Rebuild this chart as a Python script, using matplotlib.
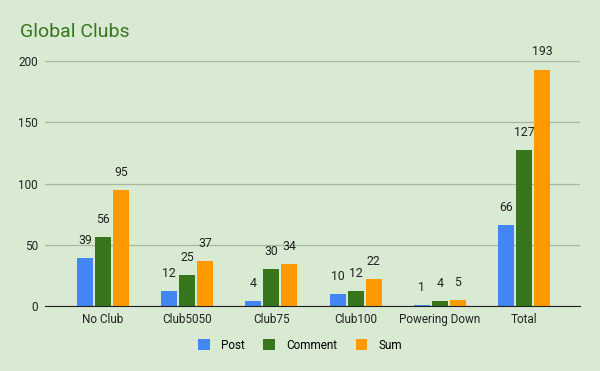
import matplotlib
matplotlib.use('Agg')
import matplotlib.pyplot as plt
import numpy as np

categories = ['No Club', 'Club5050', 'Club75', 'Club100', 'Powering Down', 'Total']
post = [39, 12, 4, 10, 1, 66]
comment = [56, 25, 30, 12, 4, 127]
total_sum = [95, 37, 34, 22, 5, 193]
yticks = [0, 50, 100, 150, 200]

plt.rcParams['font.family'] = ['Roboto', 'DejaVu Sans']

bg = '#d9ead3'
fig = plt.figure(figsize=(6, 3.71), dpi=100, facecolor=bg)
ax = fig.add_axes([0.075, 0.175, 0.892, 0.6606], facecolor=bg)

x = np.arange(len(categories))
w = 0.19
step = 0.214
series = [('Post', post, '#4285f4'), ('Comment', comment, '#38761d'), ('Sum', total_sum, '#ff9900')]
for i, (name, vals, col) in enumerate(series):
    bars = ax.bar(x + (i - 1) * step, vals, width=w, color=col, label=name, zorder=3)
    for b, v in zip(bars, vals):
        ax.annotate(str(v), (b.get_x() + b.get_width() / 2, v), xytext=(0, 8),
                    textcoords='offset points', ha='center', va='bottom',
                    fontsize=8.8, color='#222222')

ax.set_xlim(-0.69, 5.67)
ax.set_ylim(0, 200)
ax.set_yticks(yticks)
ax.set_xticks(x)
ax.set_xticklabels(categories)
ax.tick_params(axis='both', length=0, labelsize=8.5, colors='#222222')
ax.tick_params(axis='x', pad=5)
ax.tick_params(axis='y', pad=5)
ax.grid(axis='y', color='#a6b89f', linewidth=0.9, zorder=0)
for s in ['top', 'right', 'left']:
    ax.spines[s].set_visible(False)
ax.spines['bottom'].set_color('#222222')
ax.spines['bottom'].set_zorder(4)

fig.text(0.033, 0.915, 'Global Clubs', fontsize=14, color='#38761d', ha='left', va='center')

fig.legend(loc='center', bbox_to_anchor=(0.5, 0.07), ncol=3, frameon=False,
           fontsize=8.5, handlelength=1.0, handleheight=1.0, columnspacing=1.6,
           handletextpad=0.9)

fig.savefig('out.png', dpi=100, facecolor=bg)
